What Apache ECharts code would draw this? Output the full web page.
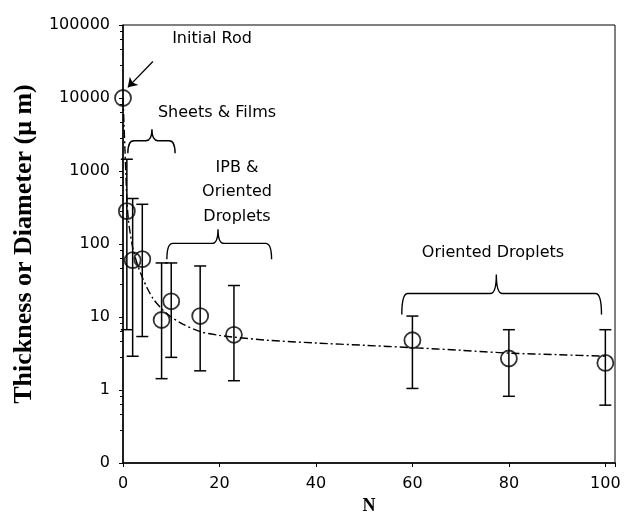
<!DOCTYPE html>
<html><head><meta charset="utf-8">
<script src="https://cdn.jsdelivr.net/npm/echarts@6/dist/echarts.min.js"></script>
<style>html,body{margin:0;padding:0;background:#fff}#c{width:624px;height:520px}</style>
</head><body><div id="c"></div>
<script>
// ---- data ----
const nValues   = [0, 0.8, 2, 4, 8, 10, 16, 23, 60, 80, 100];
const thickness = [10000, 282, 60, 62, 9.1, 16.4, 10.3, 5.7, 4.8, 2.7, 2.35];
const errLow    = [null, 6.7, 2.9, 5.4, 1.43, 2.8, 1.83, 1.34, 1.05, 0.82, 0.62];
const errHigh   = [null, 1450, 420, 350, 55, 55, 50, 27, 10.3, 6.7, 6.7];
const fitN      = [0, 0.2, 0.4, 0.6, 0.8, 1.1, 1.5, 2, 3, 4, 5, 6.2, 8, 10, 12.4, 16, 20, 23, 30, 40, 50, 60, 70, 80, 90, 100];
const fitY      = [10000, 4500, 2000, 900, 420, 220, 140, 90, 52, 35, 25, 18, 13, 10, 8, 6.3, 5.6, 5.3, 4.8, 4.4, 4.1, 3.8, 3.5, 3.2, 3.05, 2.9];
const xTicks    = [0, 20, 40, 60, 80, 100];
const yTicks    = [0.1, 1, 10, 100, 1000, 10000, 100000];
// braces: [N start, N end, level, N of tip]
const braces    = [[1, 10.8, 2600, 6], [9.1, 30.8, 102, 19.7], [57.8, 99.2, 21, 77.4]];
const arrowFrom = [6.2, 31600];
const arrowTo   = [1.0, 14000];
const notes     = ['Initial Rod', 'Sheets & Films', 'IPB &', 'Oriented', 'Droplets', 'Oriented Droplets'];

const pts = nValues.map((n, i) => [n, thickness[i]]);
const bars = nValues.map((n, i) => [n, errLow[i], errHigh[i]]).filter(d => d[1] != null);
const fit = fitN.map((n, i) => [n, fitY[i]]);

const SANS = 'DejaVu Sans';
const chart = echarts.init(document.getElementById('c'));
const noteStyle = {fontFamily: SANS, fontSize: 16, fill: '#000'};
const notePos = [[212, 39], [217, 113], [237, 168], [237, 192], [237, 217], [493, 253]];

chart.setOption({
  animation: false,
  grid: {left: 123, right: 9, top: 25, bottom: 48, show: true, borderColor: '#000', borderWidth: 1},
  xAxis: {
    type: 'value', min: 0, max: 102, interval: 20,
    name: 'N', nameLocation: 'middle', nameGap: 34,
    nameTextStyle: {fontFamily: 'Liberation Serif', fontWeight: 'bold', fontSize: 18, color: '#000'},
    axisLine: {lineStyle: {color: '#000', width: 1.5}},
    axisTick: {length: 4, lineStyle: {color: '#000'}},
    axisLabel: {margin: 13, fontFamily: SANS, fontSize: 16, color: '#000',
      formatter: v => xTicks.indexOf(v) >= 0 ? String(v) : ''},
    splitLine: {show: false}
  },
  yAxis: {
    type: 'log', logBase: 10, min: yTicks[0], max: yTicks[yTicks.length - 1],
    name: 'Thickness or Diameter (\u03bc m)', nameLocation: 'middle', nameGap: 86,
    nameTextStyle: {fontFamily: 'Liberation Serif', fontWeight: 'bold', fontSize: 26, color: '#000'},
    axisLine: {lineStyle: {color: '#000', width: 1.5}},
    axisTick: {length: 4, lineStyle: {color: '#000'}},
    minorTick: {show: true, splitNumber: 5, length: 3, lineStyle: {color: '#000'}},
    axisLabel: {margin: 13, fontFamily: SANS, fontSize: 16, color: '#000',
      formatter: v => v < 1 ? '0' : String(Math.round(v))},
    splitLine: {show: false}
  },
  graphic: notes.map((t, i) => ({
    type: 'text', x: notePos[i][0], y: notePos[i][1],
    style: Object.assign({text: t, align: 'center', verticalAlign: 'middle'}, noteStyle)
  })),
  series: [
    {
      type: 'line', data: fit, showSymbol: false, smooth: 0.3, silent: true,
      lineStyle: {color: '#000', width: 1.4, type: [8, 3, 2, 3]}, z: 2
    },
    {
      type: 'custom', data: bars, encode: {x: 0, y: [1, 2]}, silent: true, z: 3,
      renderItem: (params, api) => {
        const x = api.value(0);
        const lo = api.coord([x, api.value(1)]);
        const hi = api.coord([x, api.value(2)]);
        const w = 6;
        const st = {stroke: '#000', lineWidth: 1.5};
        return {type: 'group', children: [
          {type: 'line', shape: {x1: lo[0], y1: lo[1], x2: hi[0], y2: hi[1]}, style: st},
          {type: 'line', shape: {x1: lo[0] - w, y1: lo[1], x2: lo[0] + w, y2: lo[1]}, style: st},
          {type: 'line', shape: {x1: hi[0] - w, y1: hi[1], x2: hi[0] + w, y2: hi[1]}, style: st}
        ]};
      }
    },
    {
      type: 'scatter', data: pts, symbol: 'circle', symbolSize: 16, z: 4,
      itemStyle: {color: 'rgba(255,255,255,0)', borderColor: '#000', borderWidth: 1.8},
      markLine: {
        silent: true, symbol: ['none', 'arrow'], symbolSize: 9,
        label: {show: false},
        lineStyle: {color: '#000', width: 1.3, type: 'solid'},
        data: [[{coord: arrowFrom}, {coord: arrowTo}]]
      }
    },
    {
      type: 'custom', data: braces, encode: {x: [0, 1, 3], y: 2}, silent: true, z: 5,
      renderItem: (params, api) => {
        const a = api.coord([api.value(0), api.value(2)]);
        const b = api.coord([api.value(1), api.value(2)]);
        const t = api.coord([api.value(3), api.value(2)]);
        const L = a[0], R = b[0], Y = a[1], T = t[0];
        const wpx = R - L;
        const h = 9 + 0.05 * wpx, d = 10 + 0.055 * wpx, r = 6;
        const p = `M${L},${Y + d} Q${L},${Y} ${L + r},${Y} L${T - r},${Y} Q${T},${Y} ${T},${Y - h} Q${T},${Y} ${T + r},${Y} L${R - r},${Y} Q${R},${Y} ${R},${Y + d}`;
        return {type: 'path', shape: {pathData: p}, style: {fill: 'none', stroke: '#000', lineWidth: 1.4}};
      }
    }
  ]
});
</script></body></html>
